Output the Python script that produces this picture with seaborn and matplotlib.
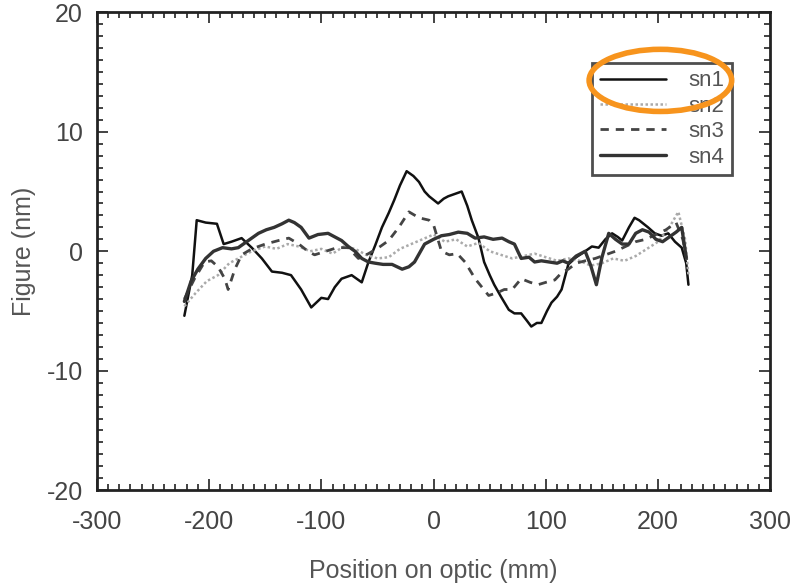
import matplotlib
matplotlib.use("Agg")
import matplotlib.pyplot as plt
from matplotlib.patches import Ellipse
from matplotlib.ticker import MultipleLocator
import seaborn as sns
import pandas as pd

sn1_x = [-222,-215,-211,-203,-193,-187,-180,-171,-162,-153,-144,-135,-127,-118,-109,-100,-94,-88,-82,-73,-64,-58,-52,-46,-40,-35,-30,-24,-18,-13,-8,-4,0,4,9,13,19,25,30,34,40,45,50,54,60,67,72,78,83,87,92,96,101,105,110,114,120,127,135,141,147,153,159,164,168,174,179,183,187,191,197,203,209,215,221,225,227]
sn1_y = [-5.4,-2,2.6,2.4,2.3,0.6,0.8,1.1,0.3,-0.6,-1.7,-1.8,-2.0,-3.2,-4.7,-3.9,-4.0,-3.0,-2.3,-2.0,-2.6,-0.9,0.5,2.0,3.2,4.3,5.5,6.7,6.3,5.8,5.0,4.6,4.3,4.0,4.4,4.6,4.8,5.0,3.8,2.6,1.1,-0.9,-2.0,-2.8,-3.8,-4.9,-5.2,-5.2,-5.8,-6.3,-6.0,-6.0,-5.0,-4.3,-3.8,-3.2,-1.1,-0.5,0.0,0.4,0.3,1.0,1.5,1.2,0.9,2.0,2.8,2.6,2.3,2.0,1.5,1.3,1.5,0.8,0.3,-1.0,-2.8]

sn2_x = [-222,-212,-202,-192,-182,-172,-162,-150,-140,-130,-120,-110,-100,-90,-80,-70,-60,-50,-40,-30,-20,-10,0,10,20,30,40,50,60,70,80,90,100,110,120,130,140,150,160,170,180,190,200,210,218,224,227]
sn2_y = [-4.6,-3.5,-2.5,-2.0,-1.0,-0.5,0.0,0.4,0.2,0.6,0.4,0.0,0.2,-0.2,0.4,0.2,-0.3,-0.6,-0.5,0.2,0.6,1.0,1.4,0.8,1.0,0.4,0.7,0.0,-0.3,-0.6,-0.4,-0.2,-0.5,-0.8,-0.6,-0.8,-1.2,-1.0,-0.6,-0.8,-0.4,0.2,0.8,2.0,3.3,1.0,-2.0]

sn3_x = [-222,-213,-204,-198,-192,-186,-183,-177,-171,-162,-150,-138,-129,-120,-112,-106,-96,-86,-76,-67,-58,-49,-40,-31,-22,-13,-4,0,7,14,21,28,37,43,49,56,63,70,78,86,93,100,108,114,120,127,135,144,153,162,171,180,189,198,207,216,222,226]
sn3_y = [-4.0,-2.3,-0.9,-0.8,-1.3,-2.3,-3.2,-1.5,-0.3,0.2,0.6,0.9,1.1,0.6,0.0,-0.3,0.0,0.3,0.3,-0.6,-0.2,0.3,0.9,2.0,3.3,2.8,2.6,2.2,0.0,-0.3,-0.2,-0.9,-2.3,-3.0,-3.7,-3.5,-3.2,-3.2,-2.3,-2.6,-2.8,-2.6,-2.4,-1.8,-1.5,-1.0,-0.8,-0.6,-0.3,0.0,0.4,0.8,1.0,1.4,1.8,2.4,1.0,-1.0]

sn4_x = [-222,-216,-210,-203,-196,-188,-180,-174,-165,-156,-149,-142,-135,-129,-124,-118,-111,-103,-94,-88,-82,-76,-70,-64,-58,-52,-45,-37,-28,-22,-17,-8,0,7,14,22,30,37,45,53,61,67,72,78,85,90,96,103,110,115,120,127,135,140,145,150,156,162,168,174,180,186,192,198,204,210,216,221,225]
sn4_y = [-4.2,-2.5,-1.5,-0.6,0.0,0.3,0.2,0.3,0.9,1.5,1.8,2.0,2.3,2.6,2.4,2.0,1.1,1.4,1.5,1.2,0.9,0.4,0.0,-0.6,-0.9,-1.0,-1.1,-1.1,-1.5,-1.3,-0.9,0.6,1.0,1.3,1.4,1.6,1.5,1.1,1.2,1.0,1.1,0.8,0.6,-0.6,-0.5,-0.9,-0.8,-0.9,-1.0,-0.8,-1.0,-0.4,0.0,-1.2,-2.8,-0.5,1.5,1.0,0.6,0.6,1.5,1.8,1.6,1.0,0.8,1.2,1.6,2.0,-0.5]

series_names = ["sn1", "sn2", "sn3", "sn4"]
x_ticks = [-300, -200, -100, 0, 100, 200, 300]
y_ticks = [-20, -10, 0, 10, 20]

sns.set_theme(style="white")
plt.rcParams['font.family'] = ['Liberation Sans', 'DejaVu Sans']

fig = plt.figure(figsize=(8, 5.85), dpi=100)
ax = fig.add_axes([0.121, 0.162, 0.842, 0.817])

styles = {
    "sn1": dict(color="#111111", lw=1.8, ls="-"),
    "sn2": dict(color="#aaaaaa", lw=1.8, ls=(0, (1, 1))),
    "sn3": dict(color="#444444", lw=2.0, ls=(0, (3, 2.5))),
    "sn4": dict(color="#333333", lw=2.4, ls="-"),
}
data = {"sn1": (sn1_x, sn1_y), "sn2": (sn2_x, sn2_y), "sn3": (sn3_x, sn3_y), "sn4": (sn4_x, sn4_y)}
for name in series_names:
    xs, ys = data[name]
    df = pd.DataFrame({"x": xs, "y": ys})
    st = styles[name]
    sns.lineplot(data=df, x="x", y="y", ax=ax, sort=False, estimator=None,
                 color=st["color"], linewidth=st["lw"], linestyle=st["ls"], label=name)

ax.set_xlim(-300, 300)
ax.set_ylim(-20, 20)
ax.set_xticks(x_ticks)
ax.set_yticks(y_ticks)
ax.set_xticklabels([str(t) for t in x_ticks])
ax.set_yticklabels([str(t) for t in y_ticks])
ax.xaxis.set_minor_locator(MultipleLocator(10))
ax.yaxis.set_minor_locator(MultipleLocator(1))
ax.tick_params(which="both", direction="in", top=True, right=True, bottom=True, left=True,
               color="#222222", width=1.2)
ax.tick_params(which="major", length=8, labelsize=18, labelcolor="#444444")
ax.tick_params(axis="x", which="major", pad=14)
ax.tick_params(axis="y", which="major", pad=10)
ax.tick_params(which="minor", length=4)
for sp in ax.spines.values():
    sp.set_color("#222222")
    sp.set_linewidth(2)
ax.set_xlabel("Position on optic (mm)", fontsize=18, color="#555555", labelpad=18)
ax.set_ylabel("Figure (nm)", fontsize=18, color="#555555", labelpad=8)

leg = ax.legend(loc="upper right", bbox_to_anchor=(0.96, 0.918), fontsize=16,
                frameon=True, fancybox=False, edgecolor="#222222", handlelength=3.0,
                handletextpad=1.0, borderpad=0.35, labelspacing=0.2, markerfirst=True)
leg.get_frame().set_linewidth(2)
for t in leg.get_texts():
    t.set_color("#555555")

ell = Ellipse((202, 14.3), 127, 5.2, fill=False, edgecolor="#f7941d", lw=4, clip_on=False, zorder=10)
ax.add_patch(ell)

fig.savefig("out.png", dpi=100, facecolor="white")
